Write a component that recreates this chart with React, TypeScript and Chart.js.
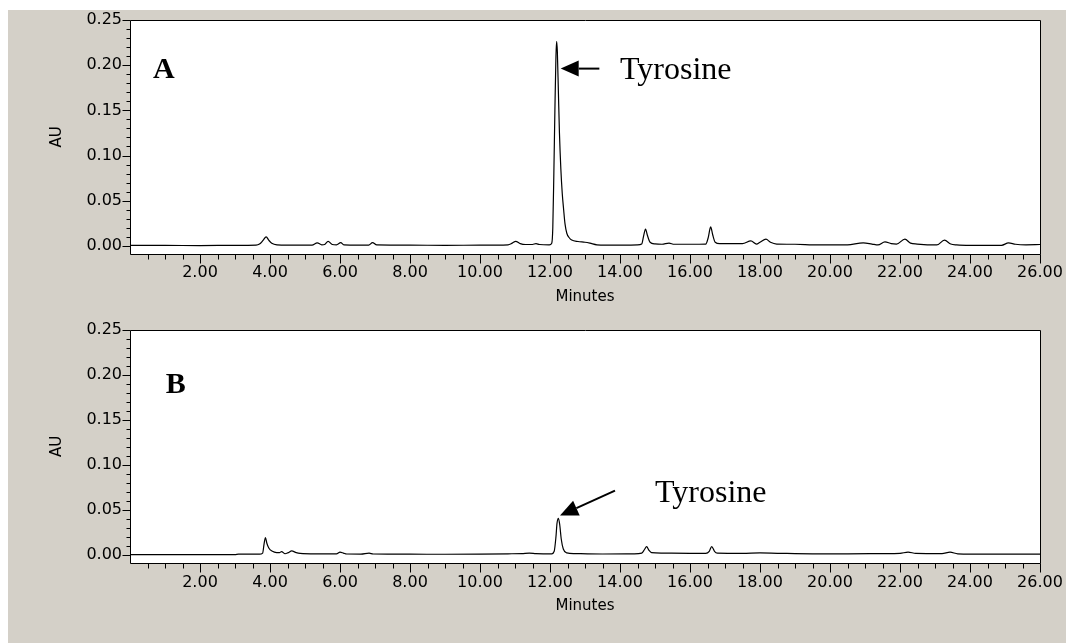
import React, { useEffect, useRef } from 'react';
import { Chart, registerables } from 'chart.js';

Chart.register(...registerables);

// ---- data: [minutes, AU] ----
const traceA: [number, number][] = [
  [0, 0.0005], [1.0, 0.0005], [2.0, 0.0003], [3.0, 0.0006], [3.6, 0.0008], [3.7, 0.002],
  [3.8, 0.006], [3.89, 0.010], [3.97, 0.006], [4.05, 0.003], [4.2, 0.0012], [4.5, 0.0008],
  [5.2, 0.0008], [5.35, 0.0033], [5.48, 0.0012], [5.56, 0.0015], [5.66, 0.005], [5.78, 0.0015],
  [5.9, 0.0012], [6.02, 0.0035], [6.12, 0.001], [6.5, 0.0008], [6.82, 0.0008], [6.93, 0.0037],
  [7.05, 0.001], [8.0, 0.0008], [9.0, 0.0006], [10.0, 0.0008], [10.8, 0.0012], [10.92, 0.003],
  [11.02, 0.005], [11.15, 0.0025], [11.3, 0.0015], [11.5, 0.0015], [11.6, 0.0025], [11.7, 0.0015],
  [11.98, 0.0012], [12.05, 0.003], [12.08, 0.02], [12.11, 0.08], [12.14, 0.15], [12.17, 0.21],
  [12.19, 0.2265], [12.21, 0.215], [12.24, 0.17], [12.27, 0.125], [12.31, 0.085], [12.35, 0.058],
  [12.39, 0.04], [12.43, 0.024], [12.48, 0.014], [12.55, 0.009], [12.62, 0.0065], [12.8, 0.0048],
  [13.0, 0.004], [13.14, 0.003], [13.34, 0.0012], [13.6, 0.0008], [14.0, 0.0008], [14.5, 0.001],
  [14.62, 0.002], [14.68, 0.012], [14.73, 0.0185], [14.78, 0.012], [14.86, 0.004], [15.0, 0.0022],
  [15.2, 0.0018], [15.4, 0.003], [15.55, 0.0018], [16.0, 0.0018], [16.45, 0.002], [16.52, 0.009],
  [16.59, 0.021], [16.65, 0.012], [16.72, 0.004], [16.85, 0.0025], [17.5, 0.0025], [17.74, 0.0055],
  [17.9, 0.002], [18.0, 0.004], [18.17, 0.0074], [18.3, 0.004], [18.48, 0.002], [19.0, 0.0018],
  [19.5, 0.0012], [20.0, 0.001], [20.5, 0.0012], [20.95, 0.0033], [21.2, 0.002], [21.37, 0.001],
  [21.57, 0.0044], [21.75, 0.0025], [21.9, 0.002], [22.14, 0.0074], [22.3, 0.003], [22.49, 0.002],
  [23.05, 0.001], [23.27, 0.0063], [23.45, 0.002], [23.62, 0.001], [24.0, 0.0005], [24.9, 0.0006],
  [25.1, 0.0033], [25.3, 0.0018], [25.6, 0.0012], [26.0, 0.0015],
];

const traceB: [number, number][] = [
  [0, 0.0002], [2.0, 0.0002], [3.0, 0.0003], [3.1, 0.0008], [3.7, 0.0008], [3.79, 0.002],
  [3.83, 0.012], [3.87, 0.0193], [3.91, 0.013], [3.97, 0.0074], [4.07, 0.004], [4.19, 0.0026],
  [4.27, 0.0025], [4.33, 0.0037], [4.43, 0.0013], [4.52, 0.0025], [4.62, 0.0044], [4.75, 0.0025],
  [4.86, 0.0017], [5.3, 0.0012], [5.9, 0.0012], [6.0, 0.003], [6.1, 0.002], [6.19, 0.001],
  [6.6, 0.0009], [6.83, 0.002], [6.95, 0.001], [8.0, 0.0008], [9.0, 0.0007], [10.0, 0.0008],
  [10.8, 0.0012], [11.2, 0.0015], [11.41, 0.002], [11.6, 0.0015], [12.05, 0.0012], [12.12, 0.004],
  [12.17, 0.02], [12.2, 0.035], [12.24, 0.0407], [12.28, 0.033], [12.32, 0.018], [12.38, 0.0065],
  [12.48, 0.0022], [12.7, 0.0015], [13.5, 0.001], [14.4, 0.0012], [14.62, 0.002], [14.7, 0.006],
  [14.76, 0.0093], [14.83, 0.005], [14.9, 0.0025], [15.2, 0.002], [16.0, 0.0018], [16.45, 0.0018],
  [16.55, 0.004], [16.62, 0.0093], [16.7, 0.004], [16.78, 0.002], [17.5, 0.0018], [18.0, 0.0022],
  [18.5, 0.0018], [19.5, 0.0012], [20.5, 0.0012], [21.5, 0.0015], [22.0, 0.0018], [22.23, 0.003],
  [22.45, 0.0018], [23.2, 0.0015], [23.43, 0.003], [23.65, 0.0012], [24.5, 0.0008], [26.0, 0.0008],
];

// ---- axes / ticks ----
const xMajorTicks = [2, 4, 6, 8, 10, 12, 14, 16, 18, 20, 22, 24, 26];
const xTickLabels = ['2.00', '4.00', '6.00', '8.00', '10.00', '12.00', '14.00', '16.00', '18.00', '20.00', '22.00', '24.00', '26.00'];
const yMajorTicks = [0, 0.05, 0.1, 0.15, 0.2, 0.25];
const yTickLabels = ['0.00', '0.05', '0.10', '0.15', '0.20', '0.25'];
const X_MIN = 0;
const X_MAX = 26;
const Y_MIN = -0.009;
const Y_MAX = 0.25;
const X_MINOR_STEP = 0.5;
const Y_MINOR_STEP = 0.01;
const xAxisTitle = 'Minutes';
const yAxisTitle = 'AU';

// ---- annotations (data coordinates) ----
const panelA = {
  letter: 'A', letterAt: [0.657, 0.1855],
  label: 'Tyrosine', labelAt: [14.0, 0.1846],
  arrowTail: [13.41, 0.1962], arrowTip: [12.306, 0.1962],
};
const panelB = {
  letter: 'B', letterAt: [1.02, 0.18],
  label: 'Tyrosine', labelAt: [15.0, 0.0592],
  arrowTail: [13.857, 0.0714], arrowTip: [12.286, 0.0437],
};

const BG = '#d4d0c8';
const TICK_FONT = 'DejaVu Sans';

const decorPlugin = {
  id: 'decor',
  beforeDraw(chart: any) {
    const { ctx, chartArea: a } = chart;
    ctx.save();
    ctx.fillStyle = '#ffffff';
    ctx.fillRect(a.left, a.top, a.right - a.left, a.bottom - a.top);
    ctx.restore();
  },
  afterDraw(chart: any) {
    const { ctx, chartArea: a, scales } = chart;
    const x = scales.x;
    const y = scales.y;
    const panel = chart.options.plugins.decor.panel;
    ctx.save();
    ctx.strokeStyle = '#000';
    ctx.lineWidth = 1;
    // frame
    const L = Math.round(a.left) + 0.5;
    const T = Math.round(a.top) + 0.5;
    const R = Math.round(a.right) + 0.5;
    const B = Math.round(a.bottom) + 0.5;
    ctx.beginPath();
    ctx.rect(L, T, R - L, B - T);
    ctx.stroke();
    // x ticks
    const nx = Math.round((X_MAX - X_MIN) / X_MINOR_STEP);
    for (let i = 1; i <= nx; i++) {
      const v = X_MIN + i * X_MINOR_STEP;
      const major = xMajorTicks.some((m) => Math.abs(m - v) < 1e-6);
      const px = Math.round(x.getPixelForValue(v)) + 0.5;
      ctx.beginPath();
      ctx.moveTo(px, B);
      ctx.lineTo(px, B + (major ? 9 : 5));
      ctx.stroke();
    }
    // y ticks
    const ny = Math.round(Y_MAX / Y_MINOR_STEP);
    for (let i = 0; i <= ny; i++) {
      const v = i * Y_MINOR_STEP;
      const major = yMajorTicks.some((m) => Math.abs(m - v) < 1e-6);
      const py = Math.round(y.getPixelForValue(v)) + 0.5;
      ctx.beginPath();
      ctx.moveTo(L, py);
      ctx.lineTo(L - (major ? 8 : 4), py);
      ctx.stroke();
    }
    // axis titles
    ctx.fillStyle = '#000';
    ctx.font = `15px "${TICK_FONT}"`;
    ctx.textAlign = 'center';
    ctx.textBaseline = 'middle';
    ctx.fillText(xAxisTitle, (a.left + a.right) / 2, a.bottom + 43);
    ctx.save();
    ctx.translate(a.left - 73, (a.top + a.bottom) / 2);
    ctx.rotate(-Math.PI / 2);
    ctx.fillText(yAxisTitle, 0, 0);
    ctx.restore();
    // annotations
    if (panel) {
      ctx.textAlign = 'left';
      ctx.textBaseline = 'alphabetic';
      ctx.font = 'bold 30px "Liberation Serif"';
      ctx.fillText(panel.letter, x.getPixelForValue(panel.letterAt[0]), y.getPixelForValue(panel.letterAt[1]));
      ctx.font = '32px "Liberation Serif"';
      ctx.fillText(panel.label, x.getPixelForValue(panel.labelAt[0]), y.getPixelForValue(panel.labelAt[1]));
      const tx = x.getPixelForValue(panel.arrowTail[0]);
      const ty = y.getPixelForValue(panel.arrowTail[1]);
      const hx = x.getPixelForValue(panel.arrowTip[0]);
      const hy = y.getPixelForValue(panel.arrowTip[1]);
      const ang = Math.atan2(hy - ty, hx - tx);
      const headLen = 18;
      const headHalf = 8;
      const bx = hx - headLen * Math.cos(ang);
      const by = hy - headLen * Math.sin(ang);
      ctx.lineWidth = 2;
      ctx.beginPath();
      ctx.moveTo(tx, ty);
      ctx.lineTo(bx, by);
      ctx.stroke();
      ctx.beginPath();
      ctx.moveTo(hx, hy);
      ctx.lineTo(bx + headHalf * Math.sin(ang), by - headHalf * Math.cos(ang));
      ctx.lineTo(bx - headHalf * Math.sin(ang), by + headHalf * Math.cos(ang));
      ctx.closePath();
      ctx.fill();
    }
    ctx.restore();
  },
};

function makeChart(canvas: HTMLCanvasElement, trace: [number, number][], panel: any, xAxisHeight: number, xPad: number) {
  return new Chart(canvas, {
    type: 'line',
    data: {
      datasets: [
        {
          data: trace.map(([t, v]) => ({ x: t, y: v })),
          borderColor: '#000',
          borderWidth: 1.2,
          pointRadius: 0,
          fill: false,
          cubicInterpolationMode: 'monotone',
        },
      ],
    },
    options: {
      animation: false,
      responsive: false,
      devicePixelRatio: 1,
      layout: { padding: { top: 10, right: 26, bottom: 0, left: 0 } },
      plugins: {
        legend: { display: false },
        tooltip: { enabled: false },
        decor: { panel },
      } as any,
      scales: {
        x: {
          type: 'linear',
          min: X_MIN,
          max: X_MAX,
          grid: { display: false, drawTicks: false },
          border: { display: false },
          afterBuildTicks: (s: any) => {
            s.ticks = xMajorTicks.map((v) => ({ value: v }));
          },
          afterFit: (s: any) => {
            s.height = xAxisHeight;
            s.paddingLeft = 0;
            s.paddingRight = 0;
            s.paddingTop = 0;
            s.paddingBottom = 0;
          },
          ticks: {
            autoSkip: false,
            maxRotation: 0,
            minRotation: 0,
            padding: xPad,
            color: '#000',
            font: { family: TICK_FONT, size: 16 },
            callback: (_v: any, i: number) => xTickLabels[i],
          },
        },
        y: {
          type: 'linear',
          min: Y_MIN,
          max: Y_MAX,
          grid: { display: false, drawTicks: false },
          border: { display: false },
          afterBuildTicks: (s: any) => {
            s.ticks = yMajorTicks.map((v) => ({ value: v }));
          },
          afterFit: (s: any) => {
            s.width = 122;
            s.paddingLeft = 0;
            s.paddingRight = 0;
            s.paddingTop = 0;
            s.paddingBottom = 0;
          },
          ticks: {
            autoSkip: false,
            padding: 8,
            color: '#000',
            font: { family: TICK_FONT, size: 16 },
            callback: (_v: any, i: number) => yTickLabels[i],
          },
        },
      },
    } as any,
    plugins: [decorPlugin],
  });
}

export default function App() {
  const refA = useRef<HTMLCanvasElement>(null);
  const refB = useRef<HTMLCanvasElement>(null);
  useEffect(() => {
    const cA = makeChart(refA.current!, traceA, panelA, 66, 9);
    const cB = makeChart(refB.current!, traceB, panelB, 80, 10);
    return () => {
      cA.destroy();
      cB.destroy();
    };
  }, []);
  return (
    <div
      style={{
        position: 'absolute',
        left: 8,
        top: 10,
        width: 1058,
        height: 633,
        background: BG,
        overflow: 'hidden',
      }}
    >
      <canvas ref={refA} width={1058} height={310} style={{ position: 'absolute', left: 0, top: 0, display: 'block' }} />
      <canvas ref={refB} width={1058} height={323} style={{ position: 'absolute', left: 0, top: 310, display: 'block' }} />
    </div>
  );
}
